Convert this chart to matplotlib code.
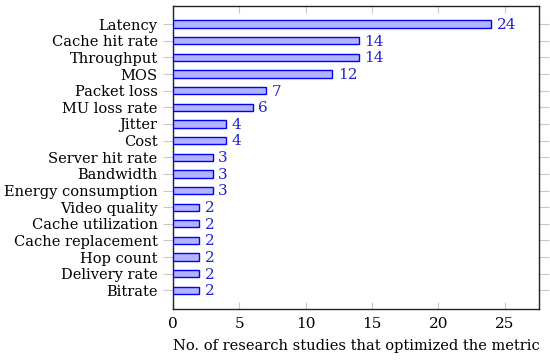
import matplotlib
matplotlib.use("Agg")
import matplotlib.pyplot as plt

categories = ["Latency", "Cache hit rate", "Throughput", "MOS", "Packet loss",
              "MU loss rate", "Jitter", "Cost", "Server hit rate", "Bandwidth",
              "Energy consumption", "Video quality", "Cache utilization",
              "Cache replacement", "Hop count", "Delivery rate", "Bitrate"]
values = [24, 14, 14, 12, 7, 6, 4, 4, 3, 3, 3, 2, 2, 2, 2, 2, 2]
xticks = [0, 5, 10, 15, 20, 25]
xlabel = "No. of research studies that optimized the metric"

plt.rcParams['font.family'] = ['DejaVu Serif']
fs = 10.5

fig = plt.figure(figsize=(5.5, 3.64), dpi=100)
ax = fig.add_axes([0.3145, 0.152, 0.6655, 0.832])

ypos = list(range(len(categories)))
ax.barh(ypos, values, height=0.44, color="#b3b3ff", edgecolor="#0000ff", linewidth=1.0, zorder=3)
for y, v in zip(ypos, values):
    ax.text(v + 0.42, y + 0.05, str(v), color="#2222cc", fontsize=11, va="center", ha="left")

ax.set_yticks(ypos)
ax.set_yticklabels(categories, fontsize=fs)
ax.set_ylim(len(categories) - 1 + 1.1, -1.1)
ax.set_xlim(0, 27.6)
ax.set_xticks(xticks)
ax.set_xticklabels([str(t) for t in xticks], fontsize=11)
ax.set_xlabel(xlabel, fontsize=fs, labelpad=6)

ax.tick_params(axis='y', direction='out', length=7, color='#c8c8c8', width=0.8,
               left=True, right=True, pad=4)
ax.tick_params(axis='x', direction='in', length=5, color='#c8c8c8', width=0.8,
               top=True, bottom=True, pad=6)
for s in ax.spines.values():
    s.set_linewidth(1.0)
    s.set_color("#222222")

fig.savefig("out.png", dpi=100)
